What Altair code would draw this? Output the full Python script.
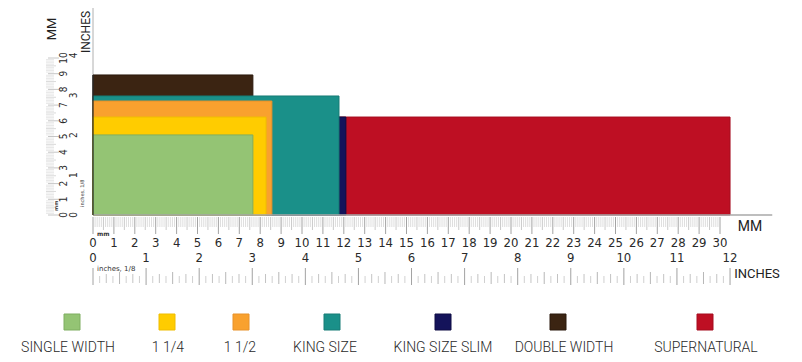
import altair as alt
import pandas as pd

# ---------------- data ----------------
papers = ["SINGLE WIDTH", "1 1/4", "1 1/2", "KING SIZE", "KING SIZE SLIM", "DOUBLE WIDTH", "SUPERNATURAL"]
length_cm = [7.65, 8.28, 8.56, 11.77, 12.1, 7.65, 30.48]
width_cm = [5.1, 6.24, 7.26, 7.58, 6.24, 8.92, 6.24]
fill_colors = ["#94c474", "#ffcc00", "#f9a12e", "#1a9089", "#14135a", "#3b2412", "#be0f23"]
stroke_colors = ["#7fae60", "#efbd00", "#e8922a", "#167c76", "#0e0d45", "#2a190c", "#a50d1e"]
draw_order = ["DOUBLE WIDTH", "SUPERNATURAL", "KING SIZE SLIM", "KING SIZE", "1 1/2", "1 1/4", "SINGLE WIDTH"]

mm_labels = list(range(0, 31))        # cm numbers on the horizontal ruler
inch_labels = list(range(0, 13))      # inch numbers on the horizontal ruler
v_mm_labels = list(range(0, 11))      # cm numbers on the vertical ruler
v_inch_labels = list(range(0, 5))     # inch numbers on the vertical ruler

# ---------------- layout ----------------
W, H = 786, 346
X0, SX = 85, 20.9      # view px of 0 cm, px per cm (horizontal)
Y0, SY = 207, 15.7     # view px of 0 cm, px per cm (vertical)
xs = alt.Scale(domain=[-X0 / SX, (W - X0) / SX], nice=False, zero=False)
ys = alt.Scale(domain=[-(H - Y0) / SY, Y0 / SY], nice=False, zero=False)

legend_square_px = [72, 167, 241, 332, 443, 558, 705]
legend_label_px = [68, 168, 240, 325, 443, 564, 706]

NUM_FONT = "Liberation Sans Narrow, DejaVu Sans Condensed, Roboto Condensed, Liberation Sans"
LBL_FONT = "Roboto"

# ---------------- bars ----------------
bars = pd.DataFrame({
    "paper": papers, "length": length_cm, "width": width_cm,
    "fill": fill_colors, "stroke": stroke_colors,
})
bars["order"] = bars["paper"].map({p: i for i, p in enumerate(draw_order)})
bars = bars.sort_values("order").reset_index(drop=True)
bars["x0"] = 0.0
bars["y0"] = 0.0

rects = alt.Chart(bars).mark_rect(strokeWidth=1).encode(
    x=alt.X("x0:Q", scale=xs, axis=None),
    x2="length:Q",
    y=alt.Y("y0:Q", scale=ys, axis=None),
    y2="width:Q",
    fill=alt.Fill("fill:N", scale=None),
    stroke=alt.Stroke("stroke:N", scale=None),
)

# ---------------- axis lines ----------------
base_df = pd.DataFrame({"a": [0.0], "b": [32.5], "top": [Y0 / SY], "bmax": [max(width_cm)]})
baseline = alt.Chart(base_df).mark_rule(color="#a8a8a8", strokeWidth=1.5).encode(
    x=alt.X("a:Q", scale=xs, axis=None), x2="b:Q", y=alt.Y("a:Q", scale=ys, axis=None))
vline = alt.Chart(base_df).mark_rule(color="#b0b0b0", strokeWidth=1).encode(
    x=alt.X("a:Q", scale=xs, axis=None), y=alt.Y("a:Q", scale=ys, axis=None), y2="top:Q")
vline_dark = alt.Chart(base_df).mark_rule(color="#2b2b2b", strokeWidth=1.2).encode(
    x=alt.X("a:Q", scale=xs, axis=None), y=alt.Y("a:Q", scale=ys, axis=None), y2="bmax:Q")

# ---------------- horizontal mm ruler ----------------
mm_ticks = pd.DataFrame({"k": list(range(0, 301))})
mm_ticks["pos"] = mm_ticks["k"] / 10.0
fine = mm_ticks[mm_ticks["k"] % 5 != 0]
half = mm_ticks[(mm_ticks["k"] % 5 == 0) & (mm_ticks["k"] % 10 != 0)]
whole = mm_ticks[mm_ticks["k"] % 10 == 0]

def hticks(df, y1, y2, color, w=0.8):
    return alt.Chart(df).mark_rule(color=color, strokeWidth=w).encode(
        x=alt.X("pos:Q", scale=xs, axis=None), y=alt.value(y1), y2=alt.value(y2))

h_fine = hticks(fine, 209, 219, "#d6d6d6")
h_half = hticks(half, 209, 222, "#bdbdbd")
h_whole = hticks(whole, 209, 226, "#8c8c8c")

mm_df = pd.DataFrame({"pos": [float(v) for v in mm_labels], "t": [str(v) for v in mm_labels]})
mm_text = alt.Chart(mm_df).mark_text(font=NUM_FONT, fontSize=13, color="#2a2a2a", baseline="middle").encode(
    x=alt.X("pos:Q", scale=xs, axis=None), y=alt.value(235), text="t:N")

in_df = pd.DataFrame({"pos": [v * 2.54 for v in inch_labels], "t": [str(v) for v in inch_labels]})
in_text = alt.Chart(in_df).mark_text(font=NUM_FONT, fontSize=13, color="#2a2a2a", baseline="middle").encode(
    x=alt.X("pos:Q", scale=xs, axis=None), y=alt.value(250), text="t:N")

# ---------------- horizontal inch ruler ----------------
in_ticks = pd.DataFrame({"k": list(range(0, 97))})
in_ticks["pos"] = in_ticks["k"] * 2.54 / 8
i_eighth = in_ticks[in_ticks["k"] % 2 != 0]
i_quarter = in_ticks[(in_ticks["k"] % 2 == 0) & (in_ticks["k"] % 4 != 0)]
i_half = in_ticks[(in_ticks["k"] % 4 == 0) & (in_ticks["k"] % 8 != 0)]
i_whole = in_ticks[in_ticks["k"] % 8 == 0]
h_i8 = hticks(i_eighth, 268, 275, "#c4c4c4")
h_i4 = hticks(i_quarter, 266, 275, "#b4b4b4")
h_i2 = hticks(i_half, 264, 276, "#a4a4a4")
h_i1 = hticks(i_whole, 260, 277, "#8a8a8a")

small_df = pd.DataFrame({"a": [0.0], "t1": ["mm"], "t2": ["inches, 1/8"]})
small_mm = alt.Chart(small_df).mark_text(font="DejaVu Sans", fontSize=6, fontWeight="bold", color="#333",
                                         align="left", dx=4, baseline="middle").encode(
    x=alt.X("a:Q", scale=xs, axis=None), y=alt.value(226), text="t1:N")
small_in = alt.Chart(small_df).mark_text(font="DejaVu Sans", fontSize=7, color="#333",
                                         align="left", dx=4, baseline="middle").encode(
    x=alt.X("a:Q", scale=xs, axis=None), y=alt.value(261), text="t2:N")

# ---------------- vertical ruler ----------------
v_ticks = pd.DataFrame({"k": list(range(0, 101))})
v_ticks["pos"] = v_ticks["k"] / 10.0
v_fine = v_ticks[v_ticks["k"] % 5 != 0]
v_half = v_ticks[(v_ticks["k"] % 5 == 0) & (v_ticks["k"] % 10 != 0)]
v_whole = v_ticks[v_ticks["k"] % 10 == 0]

def vticks(df, x1, x2, color, w=0.8):
    return alt.Chart(df).mark_rule(color=color, strokeWidth=w).encode(
        y=alt.Y("pos:Q", scale=ys, axis=None), x=alt.value(x1), x2=alt.value(x2))

vt_fine = vticks(v_fine, 38, 46, "#e2e2e2")
vt_half = vticks(v_half, 38, 48, "#d0d0d0")
vt_whole = vticks(v_whole, 40, 51, "#b8b8b8")

vmm_df = pd.DataFrame({"pos": [float(v) for v in v_mm_labels], "t": [str(v) for v in v_mm_labels]})
vmm_text = alt.Chart(vmm_df).mark_text(font=NUM_FONT, fontSize=10, color="#2a2a2a", angle=270,
                                       baseline="middle").encode(
    y=alt.Y("pos:Q", scale=ys, axis=None), x=alt.value(56), text="t:N")
vin_df = pd.DataFrame({"pos": [v * 2.54 for v in v_inch_labels], "t": [str(v) for v in v_inch_labels]})
vin_text = alt.Chart(vin_df).mark_text(font=NUM_FONT, fontSize=10, color="#2a2a2a", angle=270,
                                       baseline="middle").encode(
    y=alt.Y("pos:Q", scale=ys, axis=None), x=alt.value(66), text="t:N")
vsmall_mm = alt.Chart(small_df).mark_text(font="DejaVu Sans", fontSize=5, fontWeight="bold", color="#333",
                                          angle=270, align="left", dx=4, baseline="middle").encode(
    y=alt.Y("a:Q", scale=ys, axis=None), x=alt.value(48), text="t1:N")
vsmall_in = alt.Chart(small_df).mark_text(font="DejaVu Sans", fontSize=5, color="#333",
                                          angle=270, align="left", dx=8, baseline="middle").encode(
    y=alt.Y("a:Q", scale=ys, axis=None), x=alt.value(74), text="t2:N")

# ---------------- axis titles ----------------
def title(txt, x, y, size, angle=0):
    return alt.Chart(pd.DataFrame({"t": [txt]})).mark_text(
        font=LBL_FONT, fontSize=size, color="#222", angle=angle, baseline="middle").encode(
        x=alt.value(x), y=alt.value(y), text="t:N")

t_mm = title("MM", 742, 219, 14)
t_in = title("INCHES", 749, 266, 13)
t_vmm = title("MM", 44, 21, 13, 270)
t_vin = title("INCHES", 78, 24, 12, 270)

# ---------------- legend ----------------
leg = pd.DataFrame({"paper": papers, "fill": fill_colors, "stroke": stroke_colors})
leg["sx"] = [(p - 8 - X0) / SX for p in legend_square_px]
leg["lx"] = [(p - 8 - X0) / SX for p in legend_label_px]
leg_sq = alt.Chart(leg).mark_square(size=256, opacity=1, strokeWidth=1).encode(
    x=alt.X("sx:Q", scale=xs, axis=None), y=alt.value(314),
    fill=alt.Fill("fill:N", scale=None), stroke=alt.Stroke("stroke:N", scale=None))
leg_tx = alt.Chart(leg).mark_text(font=LBL_FONT, fontSize=14, fontWeight=300, color="#2a2a2a",
                                  baseline="middle").encode(
    x=alt.X("lx:Q", scale=xs, axis=None), y=alt.value(340), text="paper:N")

chart = alt.layer(
    vt_fine, vt_half, vt_whole, vmm_text, vin_text, vsmall_mm, vsmall_in,
    h_fine, h_half, h_whole, mm_text, in_text, small_mm, small_in,
    h_i8, h_i4, h_i2, h_i1,
    vline, rects, baseline, vline_dark,
    t_mm, t_in, t_vmm, t_vin,
    leg_sq, leg_tx,
).properties(
    width=W, height=H, padding=0,
    autosize=alt.AutoSizeParams(type="none"),
).configure_view(stroke=None)

chart.save("out.html", embed_options={"renderer": "svg", "actions": False})
